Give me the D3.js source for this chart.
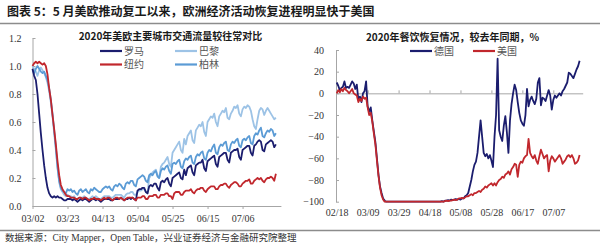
<!DOCTYPE html>
<html>
<head>
<meta charset="utf-8">
<script src="https://cdn.jsdelivr.net/npm/d3@7"></script>
<style>
  body { margin: 0; background: #fff; }
  text { font-family: "Liberation Serif", "Noto Sans CJK SC", serif; }
  .cjk { font-family: "Noto Sans CJK SC", sans-serif; }
</style>
</head>
<body>
<script>
const width = 600;
const height = 244;

// left: traffic vs normal, daily from 2020-03-02
const trafficStart = new Date(2020, 2, 2);
const trafficTicks = ["03/02", "03/23", "04/13", "05/04", "05/25", "06/15", "07/06"];
const trafficY = [0, 0.2, 0.4, 0.6, 0.8, 1.0, 1.2];
const rome = [
  0.98, 0.93, 0.90, 0.80, 0.66, 0.52, 0.40,
  0.29, 0.20, 0.13, 0.09, 0.07, 0.06, 0.07,
  0.06, 0.07, 0.06, 0.06, 0.05, 0.04, 0.04,
  0.05, 0.05, 0.05, 0.04, 0.05, 0.04, 0.03,
  0.04, 0.05, 0.04, 0.05, 0.05, 0.04, 0.03,
  0.04, 0.05, 0.05, 0.04, 0.05, 0.04, 0.03,
  0.04, 0.05, 0.05, 0.05, 0.05, 0.04, 0.04,
  0.05, 0.05, 0.05, 0.05, 0.06, 0.05, 0.04,
  0.05, 0.05, 0.06, 0.05, 0.06, 0.05, 0.04,
  0.11, 0.12, 0.12, 0.13, 0.13, 0.10, 0.09,
  0.14, 0.15, 0.14, 0.16, 0.16, 0.13, 0.11,
  0.17, 0.18, 0.17, 0.19, 0.20, 0.16, 0.14,
  0.20, 0.21, 0.22, 0.23, 0.24, 0.20, 0.19,
  0.26, 0.22, 0.27, 0.28, 0.29, 0.24, 0.22,
  0.29, 0.30, 0.31, 0.31, 0.33, 0.27, 0.25,
  0.32, 0.33, 0.34, 0.35, 0.36, 0.30, 0.28,
  0.35, 0.36, 0.37, 0.38, 0.38, 0.33, 0.31,
  0.38, 0.39, 0.40, 0.40, 0.41, 0.35, 0.33,
  0.40, 0.41, 0.42, 0.43, 0.43, 0.38, 0.36,
  0.43, 0.44, 0.46, 0.47, 0.46, 0.40, 0.39,
  0.44, 0.45, 0.46, 0.47, 0.46, 0.42, 0.44
];
const paris = [
  1.00, 0.98, 0.96, 0.93, 0.97, 0.99, 0.97,
  0.95, 0.92, 0.88, 0.82, 0.74, 0.64, 0.52,
  0.40, 0.27, 0.17, 0.12, 0.10, 0.08, 0.07,
  0.08, 0.07, 0.07, 0.06, 0.07, 0.05, 0.05,
  0.06, 0.06, 0.06, 0.07, 0.06, 0.05, 0.05,
  0.06, 0.07, 0.06, 0.07, 0.06, 0.05, 0.05,
  0.06, 0.07, 0.07, 0.07, 0.07, 0.06, 0.06,
  0.07, 0.08, 0.08, 0.08, 0.08, 0.07, 0.06,
  0.08, 0.09, 0.09, 0.10, 0.10, 0.08, 0.08,
  0.10, 0.11, 0.11, 0.12, 0.12, 0.10, 0.09,
  0.20, 0.22, 0.24, 0.25, 0.26, 0.22, 0.20,
  0.28, 0.30, 0.31, 0.33, 0.35, 0.30, 0.28,
  0.38, 0.40, 0.42, 0.44, 0.46, 0.40, 0.38,
  0.48, 0.44, 0.50, 0.52, 0.54, 0.47, 0.45,
  0.54, 0.56, 0.58, 0.57, 0.60, 0.53, 0.50,
  0.60, 0.62, 0.64, 0.63, 0.66, 0.60, 0.57,
  0.64, 0.66, 0.68, 0.67, 0.70, 0.63, 0.62,
  0.66, 0.68, 0.71, 0.70, 0.72, 0.66, 0.64,
  0.69, 0.71, 0.70, 0.72, 0.71, 0.68, 0.62,
  0.57, 0.55, 0.62, 0.68, 0.70, 0.69, 0.65,
  0.68, 0.70, 0.68, 0.66, 0.64, 0.62, 0.63
];
const newYork = [
  1.00, 1.02, 1.03, 1.02, 1.03, 1.02, 1.01,
  1.02, 1.00, 0.94, 0.84, 0.76, 0.65, 0.55,
  0.44, 0.32, 0.22, 0.15, 0.12, 0.10, 0.08,
  0.07, 0.07, 0.06, 0.06, 0.06, 0.05, 0.05,
  0.06, 0.06, 0.05, 0.06, 0.06, 0.05, 0.04,
  0.05, 0.05, 0.06, 0.05, 0.05, 0.05, 0.04,
  0.05, 0.06, 0.05, 0.06, 0.06, 0.05, 0.04,
  0.05, 0.06, 0.06, 0.05, 0.06, 0.05, 0.04,
  0.05, 0.06, 0.06, 0.06, 0.06, 0.05, 0.04,
  0.06, 0.06, 0.06, 0.07, 0.07, 0.05, 0.05,
  0.07, 0.07, 0.07, 0.08, 0.08, 0.06, 0.06,
  0.08, 0.08, 0.08, 0.09, 0.09, 0.07, 0.07,
  0.05, 0.09, 0.10, 0.10, 0.10, 0.08, 0.08,
  0.10, 0.11, 0.11, 0.11, 0.12, 0.10, 0.09,
  0.11, 0.12, 0.12, 0.13, 0.13, 0.11, 0.10,
  0.12, 0.13, 0.14, 0.14, 0.14, 0.12, 0.12,
  0.14, 0.15, 0.15, 0.16, 0.16, 0.14, 0.13,
  0.15, 0.16, 0.17, 0.17, 0.16, 0.14, 0.14,
  0.16, 0.17, 0.18, 0.18, 0.19, 0.16, 0.16,
  0.18, 0.19, 0.20, 0.19, 0.20, 0.18, 0.17,
  0.19, 0.20, 0.20, 0.21, 0.20, 0.18, 0.23
];
const berlin = [
  0.97, 0.95, 0.98, 1.00, 0.98, 0.96, 0.95,
  0.96, 0.93, 0.90, 0.84, 0.76, 0.66, 0.54,
  0.42, 0.28, 0.18, 0.13, 0.11, 0.10, 0.09,
  0.12, 0.11, 0.12, 0.10, 0.11, 0.09, 0.08,
  0.11, 0.12, 0.10, 0.11, 0.12, 0.10, 0.09,
  0.12, 0.11, 0.13, 0.12, 0.11, 0.10, 0.10,
  0.12, 0.13, 0.14, 0.13, 0.14, 0.12, 0.11,
  0.14, 0.15, 0.14, 0.16, 0.15, 0.13, 0.12,
  0.16, 0.17, 0.16, 0.18, 0.18, 0.15, 0.14,
  0.19, 0.20, 0.21, 0.22, 0.21, 0.18, 0.17,
  0.22, 0.23, 0.22, 0.24, 0.25, 0.21, 0.20,
  0.25, 0.27, 0.26, 0.28, 0.29, 0.25, 0.23,
  0.30, 0.31, 0.30, 0.32, 0.33, 0.28, 0.27,
  0.32, 0.34, 0.33, 0.35, 0.36, 0.31, 0.30,
  0.35, 0.37, 0.36, 0.38, 0.39, 0.34, 0.33,
  0.38, 0.40, 0.39, 0.42, 0.44, 0.38, 0.37,
  0.42, 0.44, 0.43, 0.45, 0.46, 0.40, 0.39,
  0.44, 0.46, 0.45, 0.47, 0.48, 0.43, 0.42,
  0.47, 0.48, 0.47, 0.49, 0.50, 0.45, 0.44,
  0.50, 0.52, 0.51, 0.54, 0.56, 0.50, 0.49,
  0.52, 0.54, 0.53, 0.55, 0.54, 0.50, 0.52
];

// right: restaurant dining vs last year (%), daily from 2020-02-18
const diningStart = new Date(2020, 1, 18);
const diningTicks = ["02/18", "03/09", "03/29", "04/18", "05/08", "05/28", "06/17", "07/07"];
const diningY = [-100, -80, -60, -40, -20, 0, 20, 40];
const germany = [
  10, 7, 3, 5, 6, 11, 5, 6, 5, 8,
  11, 9, 4, 8, -6, -3, -8, 0, 2, 11,
  -12, -17, -13, -25, -35, -45, -60, -75, -86, -92,
  -97, -99, -100, -100, -100, -100, -100, -100, -100, -100,
  -100, -100, -100, -100, -100, -100, -100, -100, -100, -100,
  -100, -100, -100, -100, -100, -100, -100, -100, -100, -100,
  -100, -100, -100, -100, -100, -100, -100, -100, -99.5, -100,
  -99, -99, -98.5, -99, -98, -98.5, -98, -97.5, -98, -97.5,
  -98, -97, -97, -95, -94, -92, -86, -80, -72, -66,
  -63, -55, -40, -25, -40, -55, -58, -56, -60, -57,
  -62, -68, -40, -20, 32, -34, -40, -44, -30, -21,
  -36, -55, -25, -10, 0, 8, 3, -8, -18, -25,
  -28, -30, -20, 4, -12, -6, -3, -7, -10, -5,
  10, 14, -11, -4, -5, -7, -2, 3, -2, -15,
  -6, -2, -4, -2, 0, -2, 2, 4, 7, 10,
  19, 18, 16, 14, 18, 22, 25, 30
];
const usa = [
  0, 3, 1, 4, 2, 5, 3, 2, 0, 2,
  4, 0, -1, -2, -8, -5, -7, -3, -5, -4,
  -13, -20, -18, -26, -37, -47, -62, -76, -87, -94,
  -98, -100, -100, -100, -100, -100, -100, -100, -100, -100,
  -100, -100, -100, -100, -100, -100, -100, -100, -100, -100,
  -100, -100, -100, -100, -100, -100, -100, -100, -100, -100,
  -100, -100, -100, -100, -100, -100, -100, -100, -100, -100,
  -99.5, -99, -99.5, -99, -99, -98.5, -98, -98.5, -98, -97,
  -97, -96.5, -97, -96, -95, -95, -94, -93, -94, -92,
  -92, -91, -90, -91, -89, -88, -86, -87, -85, -84,
  -83, -85, -83, -85, -82, -80, -79, -77, -78, -75,
  -74, -72, -75, -70, -68, -65, -66, -77, -66, -63,
  -64, -60, -58, -57, -42, -55, -58, -60, -57, -62,
  -65, -58, -52, -56, -60, -58, -57, -72, -62, -58,
  -60, -63, -61, -59, -57, -60, -65, -63, -61, -58,
  -57, -59, -57, -60, -65, -64, -62, -57
];

const navy = "#1b1d6e";
const red = "#c1272d";
const paleBlue = "#9dc3e6";
const midBlue = "#5b9bd5";
const axisGrey = "#a6a6a6";

const svg = d3
  .select("body")
  .append("svg")
  .attr("width", width)
  .attr("height", height);

// header + footer
svg.append("text")
  .attr("class", "cjk")
  .attr("x", 7)
  .attr("y", 16)
  .attr("font-size", 12)
  .attr("font-weight", "bold")
  .attr("fill", "#1a1a1a")
  .text("图表 5：5 月美欧推动复工以来，欧洲经济活动恢复进程明显快于美国");
svg.append("line")
  .attr("x1", 0).attr("x2", width)
  .attr("y1", 23.5).attr("y2", 23.5)
  .attr("stroke", "#8c8c8c")
  .attr("stroke-width", 1.5);
svg.append("line")
  .attr("x1", 0).attr("x2", width)
  .attr("y1", 230.5).attr("y2", 230.5)
  .attr("stroke", "#8c8c8c")
  .attr("stroke-width", 1.5);
svg.append("text")
  .attr("x", 5)
  .attr("y", 241)
  .attr("font-size", 9.5)
  .attr("fill", "#333")
  .text("数据来源：City Mapper，Open Table，兴业证券经济与金融研究院整理");

const fmtDay = d3.timeFormat("%m/%d");
const parseDay = s => new Date(2020, +s.slice(0, 2) - 1, +s.slice(3));
const dayAt = (start, i) => d3.timeDay.offset(start, i);

function styleAxis(g) {
  g.selectAll("path, line").attr("stroke", axisGrey);
  g.selectAll("text")
    .attr("font-size", 10)
    .attr("fill", "#333")
    .attr("font-family", "Liberation Serif, serif");
}

function drawLegend(items, x0, y0, colGap, rowGap, cols) {
  items.forEach((it, i) => {
    const x = x0 + (i % cols) * colGap;
    const y = y0 + Math.floor(i / cols) * rowGap;
    svg.append("line")
      .attr("x1", x).attr("x2", x + 22)
      .attr("y1", y).attr("y2", y)
      .attr("stroke", it.color)
      .attr("stroke-width", 2.2);
    svg.append("text")
      .attr("class", "cjk")
      .attr("x", x + 24)
      .attr("y", y + 3.5)
      .attr("font-size", 10)
      .attr("fill", "#555")
      .text(it.name);
  });
}

// ---------- left chart ----------
const xL = d3.scaleTime()
  .domain([trafficStart, dayAt(trafficStart, 149)])
  .range([32.5, 280.9]);
const yL = d3.scaleLinear().domain([0, 1.2]).range([206, 38]);

svg.append("g")
  .attr("transform", "translate(0,206)")
  .call(d3.axisBottom(xL)
    .tickValues(trafficTicks.map(parseDay))
    .tickFormat(fmtDay)
    .tickSizeInner(3)
    .tickSizeOuter(0)
    .tickPadding(6))
  .call(styleAxis);

svg.append("g")
  .attr("transform", "translate(32.5,0)")
  .call(d3.axisLeft(yL)
    .tickValues(trafficY)
    .tickFormat(d3.format(".1f"))
    .tickSizeInner(-3)
    .tickSizeOuter(0)
    .tickPadding(11))
  .call(styleAxis);

const lineL = d3.line()
  .x((d, i) => xL(dayAt(trafficStart, i)))
  .y(d => yL(d));

[
  { values: paris, color: paleBlue },
  { values: berlin, color: midBlue },
  { values: rome, color: navy },
  { values: newYork, color: red }
].forEach(s => {
  svg.append("path")
    .datum(s.values)
    .attr("fill", "none")
    .attr("stroke", s.color)
    .attr("stroke-width", 1.8)
    .attr("stroke-linejoin", "round")
    .attr("d", lineL);
});

svg.append("text")
  .attr("class", "cjk")
  .attr("x", 170.5)
  .attr("y", 40)
  .attr("text-anchor", "middle")
  .attr("font-size", 10)
  .attr("font-weight", "bold")
  .attr("fill", "#1a1a1a")
  .text("2020年美欧主要城市交通流量较往常对比");

drawLegend([
  { name: "罗马", color: navy },
  { name: "巴黎", color: paleBlue },
  { name: "纽约", color: red },
  { name: "柏林", color: midBlue }
], 100, 51, 75, 13.5, 2);

// ---------- right chart ----------
const xR = d3.scaleTime()
  .domain([diningStart, dayAt(diningStart, 159)])
  .range([336.7, 582.7]);
const yR = d3.scaleLinear().domain([-100, 40]).range([201.7, 50]);
const diningTickDates = diningTicks.map(parseDay);

// zero line with small upward ticks
svg.append("g")
  .attr("transform", `translate(0,${yR(0)})`)
  .call(d3.axisBottom(xR)
    .tickValues(diningTickDates)
    .tickFormat("")
    .tickSizeInner(-3)
    .tickSizeOuter(0))
  .call(styleAxis);

// date labels sit below the plot
svg.append("g")
  .attr("transform", `translate(0,${yR(-100)})`)
  .call(d3.axisBottom(xR)
    .tickValues(diningTickDates)
    .tickFormat(fmtDay)
    .tickSize(0)
    .tickPadding(7))
  .call(g => g.select(".domain").remove())
  .call(styleAxis);

svg.append("g")
  .attr("transform", "translate(336,0)")
  .call(d3.axisLeft(yR)
    .tickValues(diningY)
    .tickFormat(d3.format("d"))
    .tickSizeInner(-3)
    .tickSizeOuter(0)
    .tickPadding(12))
  .call(styleAxis);

const lineR = d3.line()
  .x((d, i) => xR(dayAt(diningStart, i)))
  .y(d => yR(d));

[
  { values: germany, color: navy },
  { values: usa, color: red }
].forEach(s => {
  svg.append("path")
    .datum(s.values)
    .attr("fill", "none")
    .attr("stroke", s.color)
    .attr("stroke-width", 1.8)
    .attr("stroke-linejoin", "round")
    .attr("d", lineR);
});

svg.append("text")
  .attr("class", "cjk")
  .attr("x", 452.5)
  .attr("y", 41)
  .attr("text-anchor", "middle")
  .attr("font-size", 10)
  .attr("font-weight", "bold")
  .attr("fill", "#1a1a1a")
  .text("2020年餐饮恢复情况，较去年同期，%");

drawLegend([
  { name: "德国", color: navy },
  { name: "美国", color: red }
], 410, 51, 63, 13.5, 2);
</script>
</body>
</html>
